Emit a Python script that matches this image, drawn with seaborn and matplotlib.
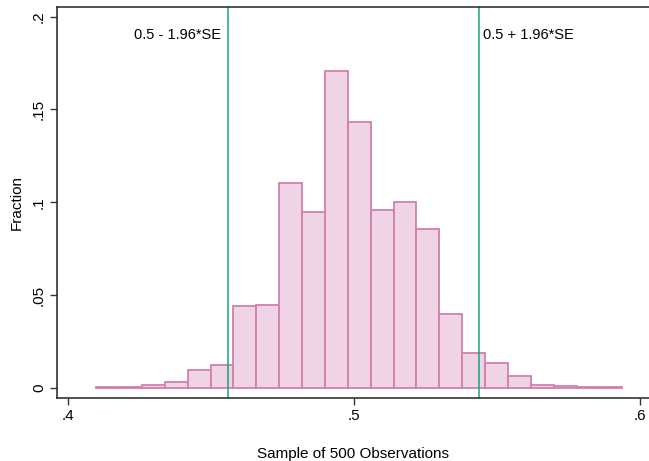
import numpy as np
import pandas as pd
import matplotlib
matplotlib.use("Agg")
import matplotlib.pyplot as plt
import seaborn as sns

# --- DATA ---
BIN_START = 0.410
BIN_WIDTH = 0.008
FRACTIONS = [0.0005, 0.0005, 0.0016, 0.0030, 0.0095, 0.0122, 0.0442, 0.0447,
             0.1103, 0.0950, 0.1709, 0.1434, 0.0956, 0.1001, 0.0857, 0.0397,
             0.0187, 0.0133, 0.0066, 0.0015, 0.0009, 0.0004, 0.0004]
P = 0.5
N_OBS = 500
SE = np.sqrt(P * (1 - P) / N_OBS)
LOWER = P - 1.96 * SE
UPPER = P + 1.96 * SE
X_TICKS = [0.4, 0.5, 0.6]
X_TICK_LABELS = ['.4', '.5', '.6']
Y_TICKS = [0, 0.05, 0.1, 0.15, 0.2]
Y_TICK_LABELS = ['0', '.05', '.1', '.15', '.2']

edges = [BIN_START + BIN_WIDTH * i for i in range(len(FRACTIONS) + 1)]
centers = [(a + b) / 2 for a, b in zip(edges[:-1], edges[1:])]
df = pd.DataFrame({'x': centers, 'frac': FRACTIONS})

sns.set_style("white")
plt.rcParams['font.family'] = ['Liberation Sans Narrow', 'Liberation Sans', 'DejaVu Sans']
plt.rcParams['text.color'] = 'black'
plt.rcParams['axes.labelcolor'] = 'black'
plt.rcParams['xtick.color'] = 'black'
plt.rcParams['ytick.color'] = 'black'

fig = plt.figure(figsize=(6.49, 4.61), dpi=100)
ax = fig.add_axes([57 / 649, 1 - 398 / 461, 1 - 57 / 649, (398 - 7) / 461])

sns.histplot(data=df, x='x', weights='frac', bins=edges, stat='count',
             color='#EED4E4', edgecolor='#D27FAF', linewidth=1.3, alpha=1,
             ax=ax)

ax.axvline(LOWER, color='#16A67A', linewidth=1.1)
ax.axvline(UPPER, color='#16A67A', linewidth=1.1)
ax.text(LOWER - 0.0025, 0.190, '0.5 - 1.96*SE', ha='right', va='center', fontsize=10.5)
ax.text(UPPER + 0.0015, 0.190, '0.5 + 1.96*SE', ha='left', va='center', fontsize=10.5)

ax.set_xlim(0.3963, 0.6033)
ax.set_ylim(-0.0054, 0.2052)
ax.set_xticks(X_TICKS)
ax.set_xticklabels(X_TICK_LABELS)
ax.set_yticks(Y_TICKS)
ax.set_yticklabels(Y_TICK_LABELS, rotation=90, va='center')
ax.tick_params(direction='out', length=5, width=1, color='#333333',
               labelsize=11, pad=3, bottom=True, left=True)
ax.set_xlabel('Sample of 500 Observations', fontsize=11, labelpad=17)
ax.set_ylabel('Fraction', fontsize=11, labelpad=6)

for side in ['left', 'bottom', 'top']:
    ax.spines[side].set_color('#222222')
    ax.spines[side].set_linewidth(1.1)
ax.spines['right'].set_visible(False)

plt.savefig('out.png', dpi=100)
